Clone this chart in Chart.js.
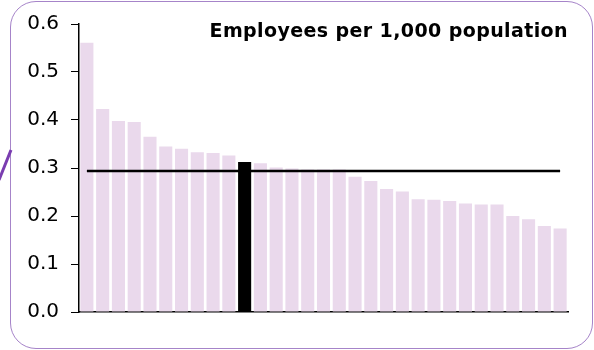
<!DOCTYPE html>
<html>
<head>
<meta charset="utf-8">
<script src="https://cdn.jsdelivr.net/npm/chart.js@4/dist/chart.umd.min.js"></script>
<style>
  html, body { margin: 0; padding: 0; background: #fff; }
  #wrap { position: relative; width: 594px; height: 350px; }
  #box {
    position: absolute; left: 10px; top: 1px; width: 581px; height: 346px;
    border: 1.5px solid #a684c9; border-radius: 26px;
  }
  #c { position: absolute; left: 0; top: 0; }
</style>
</head>
<body>
<div id="wrap">
  <div id="box"></div>
  <canvas id="c" width="594" height="350"></canvas>
</div>
<script>
// categories (one per area, unlabeled in the original)
var areas = ["1","2","3","4","5","6","7","8","9","10","11","12","13","14","15","16",
             "17","18","19","20","21","22","23","24","25","26","27","28","29","30","31"];

// employees per 1,000 population
var rates = [0.561, 0.423, 0.398, 0.396, 0.365, 0.345, 0.340, 0.333, 0.331, 0.326,
             0.3125, 0.310, 0.301, 0.299, 0.297, 0.297, 0.297, 0.282, 0.273, 0.256,
             0.251, 0.235, 0.234, 0.231, 0.226, 0.224, 0.224, 0.200, 0.193, 0.179, 0.174];

// highlighted area (black bar)
var highlightIndex = 10;

// average line
var average = 0.294;

var yTicks = [0, 0.1, 0.2, 0.3, 0.4, 0.5, 0.6];
var titleText = "Employees per 1,000 population";

var barColors = [];
var avgLine = [];
for (var i = 0; i < rates.length; i++) {
  barColors.push(i == highlightIndex ? "#000000" : "#ead9ec");
  avgLine.push(average);
}

// titolo dentro l'area del grafico + tratto viola a sinistra
var extras = {
  id: "extras",
  afterDraw: function(chart) {
    var ctx = chart.ctx;
    ctx.save();
    ctx.font = "bold 19px 'DejaVu Sans'";
    ctx.letterSpacing = "0.4px";
    ctx.fillStyle = "#000";
    ctx.textAlign = "right";
    ctx.textBaseline = "alphabetic";
    ctx.fillText(titleText, 568, 37);
    ctx.restore();

    ctx.save();
    ctx.strokeStyle = "#7a3db0";
    ctx.lineWidth = 3;
    ctx.beginPath();
    ctx.moveTo(-1, 180);
    ctx.lineTo(11, 150);
    ctx.stroke();
    ctx.restore();
  }
};

var ctx = document.getElementById("c").getContext("2d");
var chart = new Chart(ctx, {
  type: "bar",
  data: {
    labels: areas,
    datasets: [{
      type: "line",
      data: avgLine,
      borderColor: "#000",
      borderWidth: 2.5,
      pointRadius: 0,
      order: 0
    }, {
      type: "bar",
      data: rates,
      backgroundColor: barColors,
      barPercentage: 0.83,
      categoryPercentage: 1.0,
      order: 1
    }]
  },
  options: {
    responsive: false,
    animation: false,
    layout: { padding: { left: 0, right: 26, top: 24, bottom: 38 } },
    plugins: { legend: { display: false }, tooltip: { enabled: false } },
    scales: {
      x: {
        grid: { display: false, drawTicks: false },
        border: { color: "#000", width: 1.5 },
        ticks: { display: false },
        afterFit: function(scale) { scale.height = 0; }
      },
      y: {
        min: 0,
        max: 0.6,
        afterBuildTicks: function(scale) {
          scale.ticks = yTicks.map(function(v) { return { value: v }; });
        },
        afterFit: function(scale) { scale.width = 79; },
        grid: { drawOnChartArea: false, tickLength: 8, color: "#000", tickColor: "#000" },
        border: { color: "#000", width: 1.5 },
        ticks: {
          padding: 12,
          color: "#000",
          font: { family: "DejaVu Sans", size: 20 },
          callback: function(v) { return Number(v).toFixed(1); }
        }
      }
    }
  },
  plugins: [extras]
});
</script>
</body>
</html>
